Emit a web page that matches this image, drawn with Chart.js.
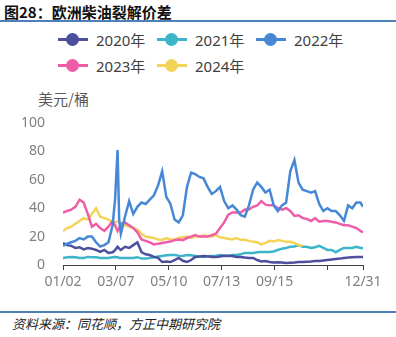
<!DOCTYPE html>
<html>
<head>
<meta charset="utf-8">
<script src="https://cdn.jsdelivr.net/npm/chart.js@4/dist/chart.umd.min.js"></script>
<style>
  html, body { margin: 0; padding: 0; background: #fff; }
  body { width: 396px; height: 337px; position: relative; overflow: hidden;
         font-family: "Noto Sans", "Noto Sans CJK SC", sans-serif; }
  .title { position: absolute; left: 4px; top: 3px; font-size: 15px; font-weight: bold; color: #111;
           font-family: "Noto Sans CJK SC", sans-serif; line-height: 18px; }
  .rule { position: absolute; left: 0; width: 396px; height: 2px; background: #4f7fb8; }
  .legend { position: absolute; left: 0; top: 28px; width: 396px; }
  .item { position: absolute; height: 22px; display: flex; align-items: center; font-size: 15px; color: #404040; }
  .mark { position: relative; width: 30px; height: 14px; margin-right: 8px; }
  .mark .ln { position: absolute; left: 0; top: 6px; width: 30px; height: 3px; }
  .mark .dot { position: absolute; left: 8px; top: 1px; width: 13px; height: 13px; border-radius: 50%; }
  .ytitle { position: absolute; left: 38px; top: 88px; font-size: 15px; color: #595959;
            font-family: "Noto Sans CJK SC", sans-serif; }
  .source { position: absolute; left: 12px; top: 314px; font-size: 13px; color: #222; font-style: italic;
            font-family: "Noto Sans CJK SC", serif; }
  #wrap { position: absolute; left: 0; top: 0; width: 396px; height: 300px; }
</style>
</head>
<body>
<div class="title">图28：欧洲柴油裂解价差</div>
<div class="rule" style="top:20px"></div>
<div class="legend" id="legend"></div>
<div class="ytitle">美元/桶</div>
<div id="wrap"><canvas id="crackChart"></canvas></div>
<div class="rule" style="top:311px"></div>
<div class="source">资料来源：同花顺，方正中期研究院</div>

<script>
// sample days, counted from 01/02
const days = [0, 5, 10, 15, 20, 25, 30, 35, 40, 45, 50, 55, 60, 63, 66, 68, 70, 75, 80, 85,
  90, 95, 100, 105, 110, 115, 120, 125, 130, 135, 140, 145, 150, 155, 160, 165, 170, 175, 180, 185,
  190, 195, 200, 205, 210, 215, 220, 225, 230, 235, 240, 245, 250, 255, 260, 265, 270, 275, 280, 285,
  290, 295, 300, 305, 310, 315, 320, 325, 330, 335, 340, 345, 350, 355, 360, 363];

const tickDays = [0, 64, 128, 192, 256, 320, 363];
const tickLabels = ['01/02', '03/07', '05/10', '07/13', '09/15', '', '12/31'];

const yTicks = [0, 20, 40, 60, 80, 100];

const years = ['2020年', '2021年', '2022年', '2023年', '2024年'];
const colors = ['#4b4f9c', '#3cb5cb', '#4788d6', '#ef5ca8', '#f4d458'];

const y2020 = [15.5, 14, 13.5, 12, 12.5, 11, 12, 11.5, 10.6, 9.2, 10.6, 8.5, 9, 10.5, 12.8, 11.5, 10.6, 12.8, 12, 14,
  16, 9, 7.5, 7, 5.7, 5, 2.1, 2.5, 2.1, 3.5, 5, 3, 2.1, 3.5, 5.7, 6, 6.4, 6.2, 5.7, 5.7,
  6, 6.5, 6.4, 6.4, 5.7, 5.7, 5.3, 5, 5, 3.5, 2.5, 2.8, 2.1, 1.8, 2, 1.8, 1.4, 1.6, 1.8, 2.1,
  2.1, 2.3, 2.5, 2.8, 2.8, 3.2, 3.5, 3.8, 4.3, 4.5, 5, 5.2, 5.5, 5.7, 5.7, 5.7];

const y2021 = [5, 5.5, 5.7, 5.5, 5, 5, 5.7, 5.5, 5.5, 5, 5, 5, 5.5, 5.7, 5.5, 5, 5, 5, 5, 5,
  5.5, 4.5, 4.5, 5, 5.5, 6, 6.4, 6.8, 7, 7, 6.6, 6.4, 7, 6.8, 6.4, 6, 5.7, 6.2, 6.4, 6.4,
  7, 6.6, 6.6, 7, 7, 7.5, 8.5, 8.5, 8.5, 9, 9.2, 9.2, 9.2, 9.5, 10.6, 11.5, 12, 12.8, 13, 14,
  12.8, 12.8, 12, 12.5, 13.5, 12, 10.6, 10.6, 9, 10.6, 12, 12, 12, 12.8, 12, 12];

const y2022 = [13.5, 15, 16, 17, 19, 18, 20, 20, 16, 13, 14, 16, 28, 46, 81, 32, 22, 34, 45, 36,
  41, 44, 43, 46, 49, 56, 66, 48, 43, 32, 30, 35, 55, 65, 64, 62, 61, 55, 50, 52,
  55, 45, 40, 42, 39, 35, 34, 42, 53, 58, 55, 51, 53, 42, 38, 42, 44, 66, 74, 58,
  53, 52, 51, 52, 43, 38, 40, 38, 38, 35, 31, 42, 40, 44, 44, 41];

const y2023 = [37, 38, 39, 41, 46, 44, 36, 27, 29, 26, 24, 27, 31, 28, 24, 26, 29, 30, 28, 26,
  23, 18, 17, 16, 14.5, 15, 15.5, 16, 16.5, 17.5, 18, 17.5, 19, 20, 21, 20, 20, 20, 21, 22,
  26, 30, 35.5, 37, 37, 37, 39, 39, 41, 42, 45, 42.5, 42, 42, 40, 39, 40, 38, 34.5, 35,
  33, 32.5, 31, 33, 30.5, 31, 31, 30.5, 30, 29, 28, 28, 27, 26, 24, 23];

const y2024 = [24, 26, 27, 29, 31, 33, 32, 36, 40, 34, 33, 32, 30, 30.5, 30.5, 30, 29, 28, 27, 26,
  25, 22, 20, 19.5, 19, 18, 17.7, 19, 18, 18, 19, 19.5, 20, 19, 20, 20, 21, 20.5, 20, 21,
  19.5, 19, 18.5, 18, 19, 17.7, 17.7, 17, 16.3, 16, 14.5, 15.6, 17, 16.5, 17.5, 17, 16.3, 16.3, 15.5, 14,
  13.5];

const series = [y2020, y2021, y2022, y2023, y2024];
// draw order: 2022 on top, then 2023, 2024, 2020, 2021
const drawOrder = [3, 4, 0, 1, 2];

function points(vals) {
  return vals.map((v, i) => ({ x: days[i], y: v }));
}

// legend (two rows, three columns)
const legend = document.getElementById('legend');
const legendX = [58, 157, 256];
years.forEach((name, i) => {
  const el = document.createElement('div');
  el.className = 'item';
  el.style.left = legendX[i % 3] + 'px';
  el.style.top = (i < 3 ? 0 : 26) + 'px';
  el.innerHTML = '<span class="mark"><span class="ln" style="background:' + colors[i] + '"></span>' +
    '<span class="dot" style="background:' + colors[i] + '"></span></span>' + name;
  legend.appendChild(el);
});

const axisFont = { family: '"Noto Sans", sans-serif', size: 14 };

new Chart(document.getElementById('crackChart').getContext('2d'), {
  type: 'line',
  data: {
    datasets: years.map((name, i) => ({
      label: name,
      data: points(series[i]),
      borderColor: colors[i],
      backgroundColor: colors[i],
      borderWidth: 2.5,
      pointRadius: 0,
      tension: 0,
      order: drawOrder[i]
    }))
  },
  options: {
    responsive: true,
    maintainAspectRatio: false,
    animation: false,
    layout: { padding: { top: 123, right: 33, bottom: 0, left: 0 } },
    scales: {
      x: {
        type: 'linear',
        min: 0,
        max: 363,
        afterBuildTicks: (scale) => { scale.ticks = tickDays.map(v => ({ value: v })); },
        afterFit: (scale) => { scale.height = 35; },
        ticks: {
          autoSkip: false,
          maxRotation: 0,
          padding: 4,
          color: '#7f7f7f',
          font: axisFont,
          callback: (v, i) => tickLabels[i]
        },
        grid: { display: true, drawOnChartArea: false, drawTicks: true, tickLength: 5, color: '#404040' },
        border: { display: true, color: '#404040', width: 1 }
      },
      y: {
        min: 0,
        max: 100,
        afterBuildTicks: (scale) => { scale.ticks = yTicks.map(v => ({ value: v })); },
        afterFit: (scale) => { scale.width = 63; },
        ticks: { padding: 10, color: '#7f7f7f', font: axisFont },
        grid: { display: false },
        border: { display: false }
      }
    },
    plugins: {
      legend: { display: false },
      tooltip: { enabled: false }
    }
  }
});
</script>
</body>
</html>
